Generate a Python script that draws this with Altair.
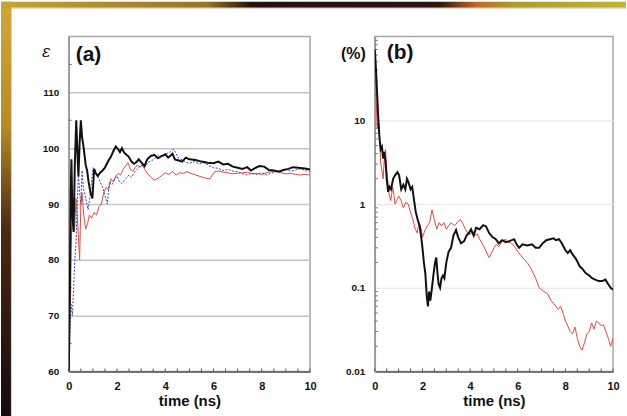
import altair as alt
import pandas as pd

FONT = "Liberation Sans"

# ---------------- panel (a): dielectric constant vs time ----------------
a_black_t = [0, 0.04, 0.08, 0.11, 0.15, 0.2, 0.25, 0.31, 0.36, 0.4, 0.45, 0.5, 0.55, 0.62, 0.7, 0.76, 0.82, 0.9, 0.98,
             1.02, 1.05, 1.12, 1.2, 1.3, 1.4, 1.5, 1.55, 1.65, 1.75, 1.85, 1.95, 2.05, 2.12, 2.2, 2.3, 2.4, 2.48, 2.6,
             2.7, 2.8, 2.9, 3.0, 3.14, 3.25, 3.4, 3.55, 3.7, 3.85, 4.0, 4.12, 4.3, 4.4, 4.55, 4.7, 4.85, 5.0, 5.25,
             5.5, 5.75, 6.0, 6.2, 6.4, 6.6, 6.8, 7.0, 7.2, 7.4, 7.55, 7.7, 7.9, 8.1, 8.3, 8.5, 8.7, 8.9, 9.1, 9.3,
             9.5, 9.7, 9.85, 10]
a_black_v = [60, 72, 92, 98, 88, 85, 97, 105, 99, 95, 101, 105, 102, 100, 97, 96, 94, 92, 91,
             94, 96.3, 95.5, 95, 95.6, 96, 96.5, 97, 97.8, 98.5, 99.5, 100.3, 99.8, 99.3, 100, 99.2, 98.8, 98.5, 97.6,
             97.2, 97.5, 98, 97.5, 96.8, 98, 98.6, 98.8, 98.2, 98.6, 98.9, 98.3, 99, 98, 97.8, 97.6, 98.3, 98, 97.9,
             97.6, 97.4, 97.3, 97.6, 97.1, 97.2, 96.7, 96.5, 96.3, 96.6, 96.0, 96.4, 96.8, 96.7, 96.1, 96.0, 95.8,
             96.1, 96.3, 96.6, 96.5, 96.4, 96.3, 96.2]

a_blue_t = [0, 0.05, 0.1, 0.15, 0.2, 0.25, 0.3, 0.35, 0.4, 0.45, 0.5, 0.55, 0.6, 0.7, 0.8, 0.9, 1.0, 1.1, 1.2, 1.3,
            1.4, 1.5, 1.6, 1.68, 1.8, 1.9, 2.0, 2.1, 2.2, 2.35, 2.5, 2.6, 2.75, 2.9, 3.0, 3.15, 3.3, 3.45, 3.6, 3.75,
            3.9, 4.05, 4.2, 4.35, 4.45, 4.55, 4.7, 4.85, 5.0, 5.2, 5.4, 5.6, 5.8, 6.0, 6.2, 6.4, 6.6, 6.8, 7.0, 7.2,
            7.4, 7.6, 7.8, 8.0, 8.2, 8.4, 8.6, 8.8, 9.0, 9.2, 9.4, 9.6, 9.8, 10]
a_blue_v = [60, 68, 72, 70, 75, 80, 83, 90, 95.5, 92, 90, 96, 93, 91, 89, 92, 96.5, 96, 95, 94,
            93, 91.5, 90, 94, 93.5, 94.5, 95, 94, 93.7, 94.5, 95.2, 94.8, 95.8, 96.5, 97, 96.6, 97.5, 97.8, 98.3, 98.7,
            98.5, 99, 99.3, 99.8, 99, 98.2, 97.9, 97.5, 97.3, 97.6, 97.2, 97.4, 96.9, 96.5, 96.4, 96.0, 96.2, 95.9, 95.8,
            95.4, 95.2, 95.5, 95.3, 95.6, 95.2, 95.5, 95.8, 96.0, 96.2, 95.9, 96.1, 96.3, 96.0, 95.8]

a_red_t = [0, 0.03, 0.05, 0.07, 0.1, 0.13, 0.16, 0.2, 0.25, 0.3, 0.35, 0.4, 0.45, 0.5, 0.55, 0.62, 0.7, 0.78, 0.85,
           0.95, 1.05, 1.15, 1.25, 1.35, 1.45, 1.55, 1.65, 1.75, 1.85, 1.95, 2.05, 2.15, 2.25, 2.35, 2.45, 2.55,
           2.65, 2.75, 2.85, 2.95, 3.05, 3.15, 3.25, 3.4, 3.55, 3.7, 3.85, 4.0, 4.15, 4.3, 4.45, 4.6, 4.75, 4.9,
           5.05, 5.2, 5.4, 5.55, 5.7, 5.85, 5.95, 6.05, 6.2, 6.4, 6.6, 6.8, 7.0, 7.2, 7.4, 7.6, 7.8, 8.0, 8.2, 8.4,
           8.6, 8.8, 9.0, 9.2, 9.4, 9.6, 9.8, 10]
a_red_v = [60, 78, 84, 72, 82, 88, 91, 85, 86, 91, 88, 84, 80, 90, 92, 88, 85.5, 86.5, 88,
           87.5, 88.5, 88, 89.5, 90, 92, 93, 92.5, 94.5, 94, 95, 95.5, 95.2, 96.2, 96.8, 97.4, 96.3,
           95.8, 96.5, 97, 96.6, 97, 96.2, 95.5, 94.8, 94.3, 94.6, 95.1, 95.6, 95.3, 95.8, 95.2, 95.6, 95.5, 95.8,
           95.5, 95.3, 95.0, 94.8, 94.6, 94.5, 95.2, 95.8, 95.9, 95.7, 95.6, 95.4, 95.5, 95.6, 95.7, 95.4, 95.5,
           95.3, 95.6, 95.8, 96.0, 95.6, 95.4, 95.5, 95.3, 95.2, 95.3, 95.2]

# ---------------- panel (b): relative error (%) vs time, log scale ----------------
b_black_t = [0, 0.05, 0.1, 0.15, 0.2, 0.25, 0.3, 0.35, 0.4, 0.46, 0.5, 0.56, 0.62, 0.68, 0.77, 0.85, 0.95, 1.02,
             1.11, 1.2, 1.28, 1.35, 1.42, 1.5, 1.57, 1.65, 1.72, 1.8, 1.88, 1.95, 2.0, 2.06, 2.12, 2.18, 2.23, 2.28,
             2.33, 2.4, 2.47, 2.53, 2.58, 2.63, 2.68, 2.74, 2.8, 2.86, 2.92, 3.0, 3.1, 3.2, 3.3, 3.41, 3.5, 3.62,
             3.75, 3.85, 3.95, 4.04, 4.15, 4.25, 4.4, 4.55, 4.67, 4.8, 4.95, 5.08, 5.2, 5.35, 5.5, 5.65, 5.85, 5.95,
             6.06, 6.2, 6.4, 6.6, 6.75, 6.9, 7.05, 7.2, 7.35, 7.5, 7.6, 7.73, 7.85, 8.0, 8.1, 8.2, 8.3, 8.45, 8.6,
             8.7, 8.85, 9.0, 9.12, 9.25, 9.4, 9.55, 9.68, 9.8, 9.9, 10]
b_black_v = [70, 40, 20, 10, 6, 4.5, 4.8, 3.5, 4.2, 3.0, 2.0, 1.4, 1.6, 1.5, 2.0, 2.2, 2.4, 2.2,
             1.5, 1.7, 1.5, 2.0, 1.8, 1.5, 1.6, 1.1, 0.8, 0.65, 0.55, 0.4, 0.3, 0.2, 0.15, 0.08, 0.06, 0.09,
             0.07, 0.1, 0.15, 0.2, 0.23, 0.15, 0.11, 0.1, 0.13, 0.14, 0.13, 0.2, 0.27, 0.3, 0.42, 0.49, 0.4, 0.34,
             0.36, 0.42, 0.45, 0.5, 0.42, 0.52, 0.5, 0.56, 0.54, 0.45, 0.4, 0.38, 0.34, 0.37, 0.35, 0.36, 0.38, 0.33,
             0.3, 0.33, 0.32, 0.33, 0.3, 0.3, 0.34, 0.37, 0.38, 0.39, 0.37, 0.38, 0.34, 0.28, 0.26, 0.28, 0.25, 0.22,
             0.18, 0.17, 0.15, 0.14, 0.13, 0.125, 0.12, 0.12, 0.125, 0.11, 0.1, 0.095]

b_red_t = [0, 0.05, 0.1, 0.15, 0.2, 0.25, 0.3, 0.35, 0.4, 0.45, 0.5, 0.55, 0.6, 0.67, 0.75, 0.8, 0.85, 0.92, 1.0,
           1.1, 1.2, 1.3, 1.4, 1.5, 1.6, 1.7, 1.78, 1.85, 1.95, 2.0, 2.1, 2.2, 2.3, 2.4, 2.5, 2.6, 2.7, 2.8, 2.9,
           3.0, 3.1, 3.2, 3.35, 3.5, 3.6, 3.7, 3.8, 3.9, 4.0, 4.1, 4.2, 4.3, 4.4, 4.5, 4.6, 4.7, 4.8, 4.9, 5.0,
           5.1, 5.2, 5.35, 5.5, 5.6, 5.75, 5.9, 6.0, 6.1, 6.25, 6.4, 6.5, 6.6, 6.75, 6.9, 7.0, 7.1, 7.25, 7.4, 7.5,
           7.6, 7.7, 7.8, 7.9, 8.0, 8.1, 8.2, 8.3, 8.4, 8.5, 8.6, 8.7, 8.8, 8.9, 9.0, 9.1, 9.2, 9.3, 9.4, 9.5, 9.6,
           9.7, 9.8, 9.9, 10]
b_red_v = [45, 20, 8, 11, 6, 3, 2.5, 2.0, 3.5, 4.5, 2.5, 1.8, 1.3, 1.1, 1.6, 1.3, 1.0, 1.1, 1.25,
           1.1, 0.9, 1.05, 1.0, 0.8, 0.65, 0.5, 0.45, 0.6, 0.5, 0.4, 0.48, 0.55, 0.6, 0.85, 0.65, 0.5, 0.6, 0.55, 0.6,
           0.5, 0.55, 0.6, 0.55, 0.62, 0.65, 0.58, 0.5, 0.45, 0.43, 0.47, 0.42, 0.44, 0.38, 0.34, 0.3, 0.26, 0.23,
           0.26, 0.3, 0.33, 0.31, 0.36, 0.38, 0.35, 0.34, 0.3, 0.27, 0.25, 0.22, 0.2, 0.18, 0.16, 0.13, 0.1, 0.095,
           0.09, 0.085, 0.07, 0.065, 0.06, 0.055, 0.06, 0.05, 0.04, 0.035, 0.03, 0.028, 0.034, 0.025, 0.02, 0.018,
           0.022, 0.028, 0.03, 0.038, 0.032, 0.04, 0.038, 0.035, 0.036, 0.03, 0.025, 0.02, 0.025]

# axis tick labels / minor tick positions
x_labels = [0, 2, 4, 6, 8, 10]
x_minor = [i * 0.5 for i in range(21)]
a_labels = [60, 70, 80, 90, 100, 110]
a_minor = [65, 75, 85, 95, 105, 115]
b_labels = [0.01, 0.1, 1, 10]
b_minor = [k * 10.0 ** e for e in range(-2, 2) for k in range(2, 10)]

W_A, W_B, H = 242, 239, 336
BLACK, RED, BLUE = "#111111", "#e8483c", "#3b3fc4"


def df(t, v):
    return pd.DataFrame({"t": t, "v": v})


one = pd.DataFrame({"k": [0]})


def x_enc():
    return alt.X("t:Q", scale=alt.Scale(domain=[0, 10], nice=False, zero=False),
                 axis=alt.Axis(values=x_labels, title="time (ns)", grid=False, ticks=False,
                               domainColor="#555555", domainWidth=1.5, labelFlush=False,
                               labelFont=FONT, labelFontWeight="bold", labelFontSize=11,
                               labelColor="#111111", labelPadding=9,
                               titleFont=FONT, titleFontWeight="bold", titleFontSize=15,
                               titleColor="#111111", titlePadding=2))


def ya_enc():
    return alt.Y("v:Q", scale=alt.Scale(domain=[60, 120], nice=False, zero=False),
                 axis=alt.Axis(values=a_labels, title="ε", titleAngle=0, titleX=-23, titleY=15,
                               titleAlign="center", titleBaseline="middle",
                               titleFont="DejaVu Serif", titleFontStyle="italic", titleFontWeight="normal",
                               titleFontSize=16, titleColor="#111111",
                               grid=True, gridColor="#c4c4c4", gridWidth=1.5, ticks=False,
                               domainColor="#999999", domainWidth=1.5,
                               labelFont=FONT, labelFontWeight="bold", labelFontSize=10,
                               labelColor="#111111", labelPadding=10))


def yb_enc():
    return alt.Y("v:Q", scale=alt.Scale(type="log", domain=[0.01, 100], nice=False),
                 axis=alt.Axis(values=b_labels, format="~g", title="(%)", titleAngle=0, titleX=-22, titleY=17,
                               titleAlign="center", titleBaseline="middle",
                               titleFont=FONT, titleFontWeight="bold", titleFontSize=16, titleColor="#111111",
                               grid=True, gridColor="#e6e6e6", gridWidth=1.2, ticks=False,
                               domainColor="#999999", domainWidth=1.5,
                               labelFont=FONT, labelFontWeight="bold", labelFontSize=10,
                               labelColor="#111111", labelPadding=10))


def line(data, ycf, color, width, dash=None):
    kw = dict(color=color, strokeWidth=width, clip=True)
    if dash:
        kw["strokeDash"] = dash
    return alt.Chart(data).mark_line(**kw).encode(x=x_enc(), y=ycf())


def x_minor_ticks(ycf):
    return alt.Chart(pd.DataFrame({"t": x_minor})).mark_rule(color="#555555", strokeWidth=1).encode(
        x=x_enc(), y=alt.value(H), y2=alt.value(H - 3))


def y_minor_ticks(vals, ycf):
    return alt.Chart(pd.DataFrame({"v": vals})).mark_rule(color="#777777", strokeWidth=1).encode(
        y=ycf(), x=alt.value(0), x2=alt.value(3))


def deco(x, x2, y, y2, fill):
    return alt.Chart(one).mark_rect(fill=fill, strokeWidth=0).encode(
        x=alt.value(x), x2=alt.value(x2), y=alt.value(y), y2=alt.value(y2))


grad_left = alt.LinearGradient(gradient="linear", x1=0, x2=0, y1=0, y2=1, stops=[
    alt.GradientStop(offset=0, color="#d2a836"), alt.GradientStop(offset=0.3, color="#b68a26"),
    alt.GradientStop(offset=0.55, color="#4a2a14"), alt.GradientStop(offset=1, color="#140a0e")])
grad_top = alt.LinearGradient(gradient="linear", x1=0, x2=1, y1=0, y2=0, stops=[
    alt.GradientStop(offset=0, color="#c9a232"), alt.GradientStop(offset=0.33, color="#9a7420"),
    alt.GradientStop(offset=0.4, color="#24120a"), alt.GradientStop(offset=0.7, color="#2a160c"),
    alt.GradientStop(offset=0.76, color="#c06a1e"), alt.GradientStop(offset=0.82, color="#b09a2a"),
    alt.GradientStop(offset=1, color="#c2b434")])

decoration = alt.layer(
    deco(-68, -58, -35, 381, grad_left),
    deco(-68, 559, -35, -29, grad_top),
    deco(-58, -57, -29, 381, "#cfcfcf"),
    deco(-58, 559, -29, -28, "#cfcfcf"),
)

label_a = alt.Chart(one).mark_text(text="(a)", font=FONT, fontWeight="bold", fontSize=21, align="left",
                                   baseline="middle", color="#111111").encode(x=alt.value(7), y=alt.value(19))
label_b = alt.Chart(one).mark_text(text="(b)", font=FONT, fontWeight="bold", fontSize=21, align="left",
                                   baseline="middle", color="#111111").encode(x=alt.value(12), y=alt.value(17))

left = alt.layer(
    decoration,
    y_minor_ticks(a_minor, ya_enc),
    x_minor_ticks(ya_enc),
    line(df(a_red_t, a_red_v), ya_enc, RED, 1),
    line(df(a_blue_t, a_blue_v), ya_enc, BLUE, 1, [2, 1.5]),
    line(df(a_black_t, a_black_v), ya_enc, BLACK, 2),
    label_a,
).properties(width=W_A, height=H)

right = alt.layer(
    y_minor_ticks(b_minor, yb_enc),
    x_minor_ticks(yb_enc),
    line(df(b_red_t, b_red_v), yb_enc, RED, 1),
    line(df(b_black_t, b_black_v), yb_enc, BLACK, 2),
    label_b,
).properties(width=W_B, height=H)

chart = alt.hconcat(left, right, spacing=65, bounds="flush", padding=0, background="white").configure_view(
    stroke="#a8a8a8", strokeWidth=1.5)

chart.save("out.html", embed_options={"renderer": "svg", "actions": False})
